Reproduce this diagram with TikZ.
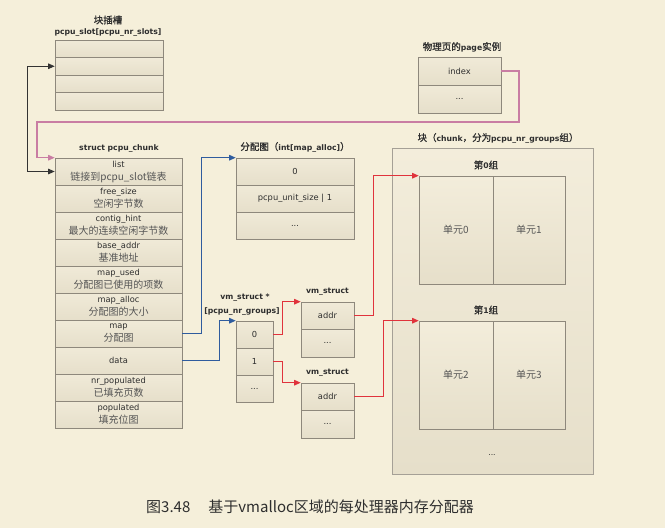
\documentclass[tikz,border=0pt]{standalone}
\usepackage{fontspec}
\setmainfont{DejaVu Sans}
\newfontfamily\cjk{Noto Sans CJK SC}
\newfontfamily\cjkb{Noto Sans CJK SC}[FakeBold=1.2]
\usetikzlibrary{arrows.meta,shadows}
\definecolor{bgc}{HTML}{F5EFDA}
\definecolor{celltop}{HTML}{F0EAD8}
\definecolor{cellbot}{HTML}{E6DFCA}
\definecolor{cellline}{HTML}{8E887C}
\definecolor{txtc}{HTML}{2E2E2E}
\definecolor{zhc}{HTML}{555555}
\definecolor{blueC}{HTML}{2F5C9E}
\definecolor{redC}{HTML}{E0333C}
\definecolor{pinkC}{HTML}{C97DA3}
\definecolor{blackC}{HTML}{333333}
\definecolor{F3top}{HTML}{F3EDDB}
\newcommand{\zh}[1]{{\cjk\fontsize{10}{13}\selectfont\color{zhc}#1}}
\newcommand{\zhb}[1]{{\cjkb\fontsize{9.5}{12}\selectfont #1}}
\newcommand{\ttl}[1]{{\bfseries #1}}
\begin{document}
\begin{tikzpicture}[x=1pt,y=-1pt,
  cell/.style={draw=cellline, line width=0.6pt, top color=celltop, bottom color=cellbot,
    inner sep=0pt, align=center, text=txtc, font=\fontsize{8.3}{13}\selectfont,
    drop shadow={shadow xshift=1.3pt, shadow yshift=-1.3pt, fill=black, opacity=0.15}},
  ctab/.style={cell, minimum width=127pt, minimum height=27pt},
  stab/.style={cell, minimum width=108pt, minimum height=17.5pt},
  ptab/.style={cell, minimum width=83pt, minimum height=28pt},
  mtab/.style={cell, minimum width=118pt, minimum height=27pt},
  vtab/.style={cell, minimum width=37pt, minimum height=27pt},
  wtab/.style={cell, minimum width=53pt, minimum height=27.5pt},
  grp/.style={cell, minimum height=108pt, top color=F3top, bottom color=cellbot},
  title/.style={text=txtc, inner sep=0pt, font=\fontsize{7.7}{10}\selectfont},
  tip/.style={-{Triangle[length=6.5pt,width=5.5pt]}},
  blueline/.style={draw=blueC, line width=1.2pt, tip},
  redline/.style={draw=redC, line width=1.2pt, tip},
  pinkline/.style={draw=pinkC, line width=1.1pt, tip},
  blackline/.style={draw=blackC, line width=0.9pt, {Triangle[length=6.5pt,width=5.5pt]}-{Triangle[length=6.5pt,width=5.5pt]}}
]
\fill[bgc] (0,0) rectangle (665,528);
\useasboundingbox (0,0) rectangle (665,528);

% slot array
\node[title] (slt1) at (108,20) {\zhb{块插槽}};
\node[title] (slt2) at (108,32) {\ttl{pcpu\_slot[pcpu\_nr\_slots]}};
\node[stab] (s1) at (109,48.75) {};
\node[stab] (s2) at (109,66.25) {};
\node[stab] (s3) at (109,83.75) {};
\node[stab] (s4) at (109,101.25) {};

% page
\node[title] (pgt) at (462,47) {\zhb{物理页的}\ttl{page}\zhb{实例}};
\node[ptab] (idx) at (459.5,71) {index};
\node[ptab] (pg2) at (459.5,99) {...};

% chunk struct
\node[title] (cht) at (119,148) {\ttl{struct pcpu\_chunk}};
\node[ctab] (list)  at (118.5,171.5) {list\\\zh{链接到pcpu\_slot链表}};
\node[ctab] (fsize) at (118.5,198.5) {free\_size\\\zh{空闲字节数}};
\node[ctab] (chint) at (118.5,225.5) {contig\_hint\\\zh{最大的连续空闲字节数}};
\node[ctab] (baddr) at (118.5,252.5) {base\_addr\\\zh{基准地址}};
\node[ctab] (mused) at (118.5,279.5) {map\_used\\\zh{分配图已使用的项数}};
\node[ctab] (malc)  at (118.5,306.5) {map\_alloc\\\zh{分配图的大小}};
\node[ctab] (mapr)  at (118.5,333.5) {map\\\zh{分配图}};
\node[ctab] (data)  at (118.5,360.5) {data};
\node[ctab] (nrpop) at (118.5,387.5) {nr\_populated\\\zh{已填充页数}};
\node[ctab] (pop)   at (118.5,414.5) {populated\\\zh{填充位图}};

% map array
\node[title] (mpt) at (295,147) {\zhb{分配图（}\ttl{int[map\_alloc]}\zhb{）}};
\node[mtab] (mp0) at (295,171.5) {0};
\node[mtab] (mp1) at (295,198.5) {pcpu\_unit\_size | 1};
\node[mtab] (mp2) at (295,225.5) {...};

% vm_struct pointer array
\node[title] (vat1) at (245,298) {\ttl{vm\_struct *}};
\node[title] (vat2) at (242,311) {\ttl{[pcpu\_nr\_groups]}};
\node[vtab] (va0) at (254.5,334.5) {0};
\node[vtab] (va1) at (254.5,361.5) {1};
\node[vtab] (va2) at (254.5,388.5) {...};

% vm_struct boxes
\node[title] (v1t) at (327.5,292) {\ttl{vm\_struct}};
\node[wtab] (v1a) at (327.5,315.75) {addr};
\node[wtab] (v1b) at (327.5,343.25) {...};
\node[title] (v2t) at (327.5,373) {\ttl{vm\_struct}};
\node[wtab] (v2a) at (327.5,396.75) {addr};
\node[wtab] (v2b) at (327.5,424.25) {...};

% chunk memory
\node[title] (bigt) at (498,138) {\zhb{块（}\ttl{chunk}\zhb{，分为}\ttl{pcpu\_nr\_groups}\zhb{组）}};
\node[cell, draw=cellline!80, minimum width=201pt, minimum height=326pt, top color=F3top, bottom color=cellbot] (big) at (492.5,311) {};
\node[title] (g0t) at (486,165) {\zhb{第}\ttl{0}\zhb{组}};
\node[grp, minimum width=74pt] (g0a) at (456,230) {\zh{单元0}};
\node[grp, minimum width=72pt] (g0b) at (529,230) {\zh{单元1}};
\node[title] (g1t) at (486,310) {\zhb{第}\ttl{1}\zhb{组}};
\node[grp, minimum width=74pt] (g1a) at (456,375) {\zh{单元2}};
\node[grp, minimum width=72pt] (g1b) at (529,375) {\zh{单元3}};
\node[title] (bigdots) at (492,455) {...};

% connectors
\draw[blackline] (list.west) -- ++(-27,0) |- (s2.west);
\coordinate (pk1) at (519,122);
\coordinate (pk2) at (37,122);
\draw[pinkline] (idx.east) -| (pk1) -- (pk2) |- (list.north west);
\draw[blueline] (mapr.east) -- ++(19,0) |- (mp0.north west);
\draw[blueline] (data.east) -- ++(37,0) |- (va0.north west);
\draw[redline] (va0.east) -- ++(9,0) |- (v1a.north west);
\draw[redline] (va1.east) -- ++(9,0) |- (v2a.north west);
\draw[redline] (v1a.east) -- ++(19,0) |- (g0a.north west);
\draw[redline] (v2a.east) -- ++(29,0) |- (g1a.north west);

% caption
\node[inner sep=0pt, text=txtc, font=\cjk\fontsize{15}{17}\selectfont] (cap) at (310,507) {图3.48\hspace{1.2em}基于vmalloc区域的每处理器内存分配器};
\end{tikzpicture}
\end{document}
